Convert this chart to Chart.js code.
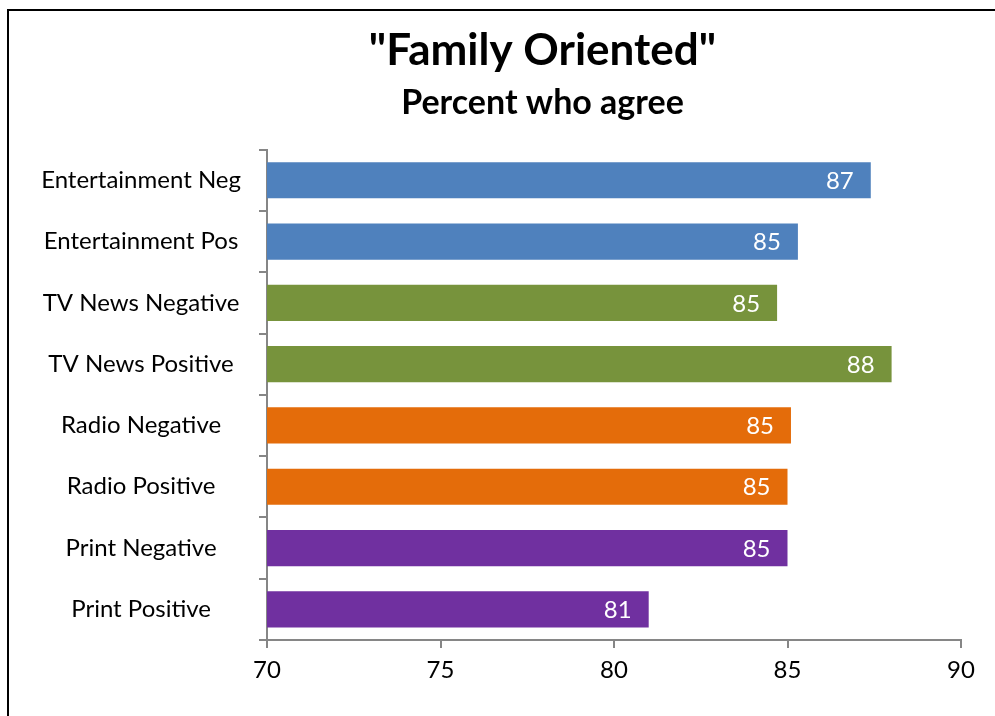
<!DOCTYPE html>
<html>
<head>
<meta charset="utf-8">
<script src="https://cdn.jsdelivr.net/npm/chart.js@4"></script>
<style>
  body { margin: 0; background: #fff; overflow: hidden; }
  #wrap { position: absolute; left: 0; top: 0; width: 995px; height: 716px; }
  #frame { position: absolute; left: 7px; top: 9px; width: 1000px; height: 720px; border: 2px solid #000; }
</style>
</head>
<body>
<div id="frame"></div>
<div id="wrap"><canvas id="myChart" width="995" height="716"></canvas></div>
<script>
// data
const categories = ['Entertainment Neg', 'Entertainment Pos', 'TV News Negative', 'TV News Positive',
  'Radio Negative', 'Radio Positive', 'Print Negative', 'Print Positive'];
const values = [87.4, 85.3, 84.7, 88.0, 85.1, 85.0, 85.0, 81.0];
const barColors = ['#4F81BD', '#4F81BD', '#77933C', '#77933C', '#E46C0A', '#E46C0A', '#7030A0', '#7030A0'];
const xTicks = [70, 75, 80, 85, 90];

const FONT = 'Lato, Calibri, sans-serif';
const AXIS = '#868686';

// white value labels inside the end of each bar
const valueLabels = {
  id: 'valueLabels',
  afterDatasetsDraw(chart) {
    const ctx = chart.ctx;
    const meta = chart.getDatasetMeta(0);
    ctx.save();
    ctx.font = '24px ' + FONT;
    ctx.fillStyle = '#fff';
    ctx.textAlign = 'right';
    ctx.textBaseline = 'middle';
    meta.data.forEach((bar, i) => {
      ctx.fillText(Math.round(values[i]), bar.x - 17, bar.y + 1);
    });
    ctx.restore();
  }
};

// the original titles sit a bit right of the canvas centre
const shiftTitles = {
  id: 'shiftTitles',
  afterLayout(chart) {
    chart.boxes.forEach(b => {
      if (b.options && b.options.text !== undefined && b.fullSize) {
        b.left += 62;
        b.right += 62;
      }
    });
  }
};

new Chart('myChart', {
  type: 'bar',
  data: {
    labels: categories,
    datasets: [{
      data: values,
      backgroundColor: barColors,
      barPercentage: 0.59,
      categoryPercentage: 1
    }]
  },
  options: {
    indexAxis: 'y',
    responsive: false,
    animation: false,
    layout: { padding: { left: 0, right: 34, top: 0, bottom: 0 } },
    plugins: {
      legend: { display: false },
      tooltip: { enabled: false },
      title: {
        display: true,
        text: '"Family Oriented"',
        color: '#000',
        font: { family: FONT, size: 44, weight: 'bold' },
        padding: { top: 24, bottom: 0 }
      },
      subtitle: {
        display: true,
        text: 'Percent who agree',
        color: '#000',
        font: { family: FONT, size: 34, weight: 'bold' },
        padding: { top: 6, bottom: 26 }
      }
    },
    scales: {
      x: {
        min: 70,
        max: 90,
        afterBuildTicks: s => { s.ticks = xTicks.map(v => ({ value: v })); },
        border: { color: AXIS, width: 2 },
        grid: { drawOnChartArea: false, color: AXIS, lineWidth: 2, tickLength: 8 },
        ticks: { color: '#000', font: { family: FONT, size: 24 }, padding: 8 },
        afterFit: s => { s.height = 76; }
      },
      y: {
        border: { color: AXIS, width: 2 },
        grid: { drawOnChartArea: false, color: AXIS, lineWidth: 2, tickLength: 8, offset: true },
        ticks: { color: '#000', font: { family: FONT, size: 24 }, crossAlign: 'center', padding: 18 },
        afterFit: s => { s.width = 267; }
      }
    }
  },
  plugins: [valueLabels, shiftTitles]
});
</script>
</body>
</html>
